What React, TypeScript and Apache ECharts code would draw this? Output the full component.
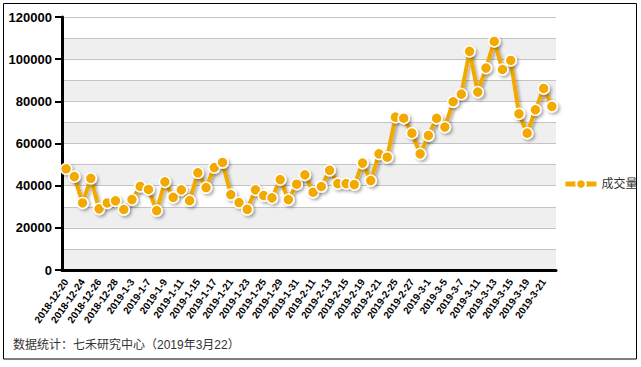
import React, { useEffect, useRef } from "react";
import * as echarts from "echarts";

const categories: string[] = [
  "2018-12-20", "2018-12-21", "2018-12-24", "2018-12-25", "2018-12-26", "2018-12-27", "2018-12-28",
  "2019-1-2", "2019-1-3", "2019-1-4", "2019-1-7", "2019-1-8", "2019-1-9", "2019-1-10", "2019-1-11",
  "2019-1-14", "2019-1-15", "2019-1-16", "2019-1-17", "2019-1-18", "2019-1-21", "2019-1-22", "2019-1-23",
  "2019-1-24", "2019-1-25", "2019-1-28", "2019-1-29", "2019-1-30", "2019-1-31", "2019-2-1",
  "2019-2-11", "2019-2-12", "2019-2-13", "2019-2-14", "2019-2-15", "2019-2-18", "2019-2-19", "2019-2-20",
  "2019-2-21", "2019-2-22", "2019-2-25", "2019-2-26", "2019-2-27", "2019-2-28", "2019-3-1",
  "2019-3-4", "2019-3-5", "2019-3-6", "2019-3-7", "2019-3-8", "2019-3-11", "2019-3-12", "2019-3-13",
  "2019-3-14", "2019-3-15", "2019-3-18", "2019-3-19", "2019-3-20", "2019-3-21", "2019-3-22",
];

const volume: number[] = [
  48000, 44300, 31800, 43500, 29000, 31800, 32800, 28700, 33400, 39700,
  38200, 28200, 41800, 34500, 38000, 32900, 46100, 39100, 48600, 51000,
  35800, 32000, 28800, 38000, 35300, 34200, 42900, 33400, 40700, 45100,
  36900, 39600, 47300, 41000, 41000, 40500, 50700, 42400, 55100, 53500,
  72500, 72000, 64900, 55100, 63800, 71900, 67800, 79800, 83400, 103700,
  84400, 95800, 108400, 95100, 99400, 74100, 64900, 76000, 86100, 77600,
];

const seriesName = "成交量";
const footnote = "数据统计：七禾研究中心（2019年3月22）";
const yMin = 0;
const yMax = 120000;

const FONT = "'Liberation Sans', Arial, 'Noto Sans CJK SC', sans-serif";
const ORANGE = "#f2a900";

export default function App() {
  const ref = useRef<HTMLDivElement>(null);
  useEffect(() => {
    if (!ref.current) return;
    const chart = echarts.init(ref.current, undefined, { renderer: "svg" });
    chart.setOption({
      animation: false,
      backgroundColor: "#ffffff",
      textStyle: { fontFamily: FONT },
      grid: { left: 62, right: 85, top: 17, bottom: 97, containLabel: false },
      legend: {
        data: [seriesName],
        orient: "vertical",
        left: 558,
        top: 173,
        itemWidth: 31,
        itemHeight: 12,
        itemGap: 6,
        lineStyle: { width: 5, color: ORANGE },
        textStyle: { fontSize: 12, color: "#333", fontFamily: FONT },
      },
      xAxis: {
        type: "category",
        data: categories,
        boundaryGap: true,
        axisLine: { lineStyle: { color: "#000", width: 3 } },
        axisTick: { interval: 1, length: 6, lineStyle: { color: "#000", width: 2 } },
        axisLabel: {
          interval: 1,
          rotate: 55,
          fontSize: 10,
          fontWeight: "bold",
          color: "#000",
          margin: 10,
          fontFamily: FONT,
        },
        splitLine: { show: false },
      },
      yAxis: [
        {
          type: "value",
          min: yMin,
          max: yMax,
          interval: 10000,
          axisLine: { show: true, lineStyle: { color: "#000", width: 3 } },
          axisTick: { show: false },
          axisLabel: {
            formatter: (v: number) => (v % 20000 === 0 ? String(v) : ""),
            fontSize: 13,
            fontWeight: "bold",
            color: "#000",
            margin: 10,
            fontFamily: FONT,
          },
          splitLine: { show: true, lineStyle: { color: "#c4c4c4", width: 1 } },
          splitArea: { show: true, areaStyle: { color: ["#efefef", "#ffffff"] } },
        },
        {
          type: "value",
          min: yMin,
          max: yMax,
          interval: 20000,
          position: "left",
          axisLine: { show: false },
          axisTick: { show: true, length: 7, lineStyle: { color: "#000", width: 2 } },
          axisLabel: { show: false },
          splitLine: { show: false },
          splitArea: { show: false },
        },
      ],
      series: [
        {
          name: seriesName,
          type: "line",
          data: volume,
          yAxisIndex: 0,
          symbol: "circle",
          symbolSize: 11,
          showSymbol: true,
          showAllSymbol: true,
          lineStyle: {
            color: ORANGE,
            width: 4,
            shadowColor: "rgba(0,0,0,0.3)",
            shadowBlur: 3,
            shadowOffsetX: 2,
            shadowOffsetY: 2,
          },
          itemStyle: {
            color: ORANGE,
            borderColor: "#ffffff",
            borderWidth: 1.5,
            shadowColor: "rgba(0,0,0,0.3)",
            shadowBlur: 3,
            shadowOffsetX: 2,
            shadowOffsetY: 2,
          },
        },
      ],
      graphic: [
        {
          type: "rect",
          shape: { x: 3.5, y: 3.5, width: 633, height: 355.5 },
          style: { fill: "none", stroke: "#000", lineWidth: 1 },
          silent: true,
        },
        {
          type: "text",
          left: 13,
          top: 339,
          style: {
            text: footnote,
            font: `12px ${FONT}`,
            fill: "#333",
          },
          silent: true,
        },
      ],
    });
    return () => chart.dispose();
  }, []);
  return (
    <div style={{ position: "fixed", left: 0, top: 0, width: 641, height: 367 }}>
      <div ref={ref} style={{ width: 641, height: 367 }} />
    </div>
  );
}
